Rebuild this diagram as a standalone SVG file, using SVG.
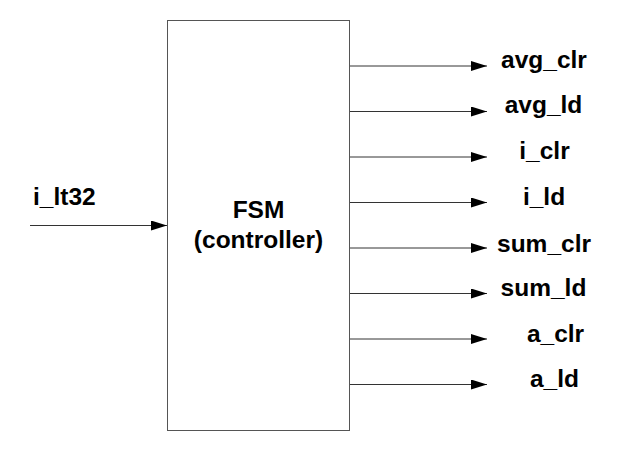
<svg xmlns="http://www.w3.org/2000/svg" width="635" height="451" viewBox="0 0 635 451">
<style>
.lbl{font-family:"Liberation Sans",Arial,sans-serif;font-weight:bold;font-size:24.5px;fill:#000}
.mid{text-anchor:middle}
.wire{stroke:#333;stroke-width:1;fill:none}
</style>
<defs>
<marker id="ah" markerUnits="userSpaceOnUse" markerWidth="16" markerHeight="10" refX="16" refY="5" orient="auto">
<path d="M0,0 L16,5 L0,10 Z" fill="#000"/>
</marker>
</defs>
<rect width="635" height="451" fill="#fff"/>
<g id="fsm">
<rect x="167.5" y="20.5" width="182" height="410" fill="#fff" stroke="#555" stroke-width="1"/>
<text class="lbl mid" x="258.5" y="218">FSM</text>
<text class="lbl mid" x="258.5" y="248">(controller)</text>
</g>
<g id="connectors">
<line class="wire" x1="30" y1="225.5" x2="167" y2="225.5" marker-end="url(#ah)"/>
<line class="wire" x1="350" y1="66" x2="487" y2="66" marker-end="url(#ah)"/>
<line class="wire" x1="350" y1="111.5" x2="487" y2="111.5" marker-end="url(#ah)"/>
<line class="wire" x1="350" y1="157" x2="487" y2="157" marker-end="url(#ah)"/>
<line class="wire" x1="350" y1="202.5" x2="487" y2="202.5" marker-end="url(#ah)"/>
<line class="wire" x1="350" y1="248" x2="487" y2="248" marker-end="url(#ah)"/>
<line class="wire" x1="350" y1="293.5" x2="487" y2="293.5" marker-end="url(#ah)"/>
<line class="wire" x1="350" y1="339" x2="487" y2="339" marker-end="url(#ah)"/>
<line class="wire" x1="350" y1="384.5" x2="487" y2="384.5" marker-end="url(#ah)"/>
</g>
<g id="in_i_lt32"><text class="lbl" x="33" y="205">i_lt32</text></g>
<g id="out_avg_clr"><text class="lbl mid" x="544" y="68">avg_clr</text></g>
<g id="out_avg_ld"><text class="lbl mid" x="543.5" y="113">avg_ld</text></g>
<g id="out_i_clr"><text class="lbl mid" x="544.5" y="159">i_clr</text></g>
<g id="out_i_ld"><text class="lbl mid" x="544" y="205">i_ld</text></g>
<g id="out_sum_clr"><text class="lbl mid" x="544" y="251.5">sum_clr</text></g>
<g id="out_sum_ld"><text class="lbl mid" x="543.5" y="296">sum_ld</text></g>
<g id="out_a_clr"><text class="lbl mid" x="555.5" y="341.5">a_clr</text></g>
<g id="out_a_ld"><text class="lbl mid" x="554.5" y="386.5">a_ld</text></g>
</svg>
